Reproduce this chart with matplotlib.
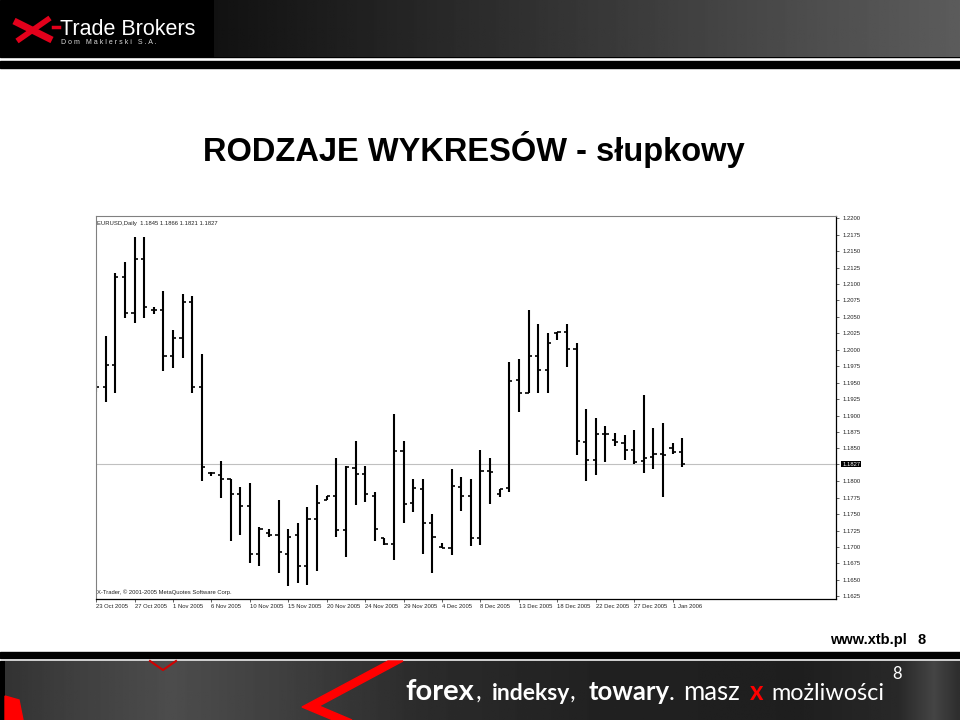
import numpy as np
import matplotlib
matplotlib.use('Agg')
import matplotlib.pyplot as plt
from matplotlib.patches import Rectangle, Polygon

# EURUSD Daily, 23 Oct 2005 - 2 Jan 2006
open_ = [1.1945, 1.1944, 1.1977, 1.2110, 1.2056, 1.2138, 1.2061, 1.2061, 1.1991, 1.2018,
         1.2072, 1.1944, 1.1812, 1.1809, 1.1803, 1.1780, 1.1762, 1.1690, 1.1721, 1.1719,
         1.1690, 1.1718, 1.1671, 1.1743, 1.1771, 1.1777, 1.1726, 1.1820, 1.1811, 1.1777,
         1.1714, 1.1704, 1.1846, 1.1767, 1.1789, 1.1737, 1.1700, 1.1698, 1.1791, 1.1778,
         1.1714, 1.1816, 1.1781, 1.1790, 1.1954, 1.1934, 1.1991, 1.1969, 1.2025, 1.2027,
         1.2001, 1.1860, 1.1832, 1.1872, 1.1863, 1.1858, 1.1847, 1.1831, 1.1837, 1.1842,
         1.1851, 1.1845]
high = [1.1952, 1.2021, 1.2117, 1.2134, 1.2172, 1.2172, 1.2065, 1.2089, 1.2030, 1.2085,
        1.2082, 1.1993, 1.1814, 1.1831, 1.1803, 1.1791, 1.1797, 1.1731, 1.1728, 1.1772,
        1.1728, 1.1736, 1.1761, 1.1794, 1.1778, 1.1836, 1.1823, 1.1861, 1.1823, 1.1783,
        1.1714, 1.1903, 1.1861, 1.1803, 1.1803, 1.1751, 1.1706, 1.1818, 1.1807, 1.1803,
        1.1848, 1.1836, 1.1789, 1.1982, 1.1986, 1.2060, 1.2039, 1.2026, 1.2027, 1.2039,
        1.2011, 1.1910, 1.1897, 1.1884, 1.1874, 1.1871, 1.1878, 1.1931, 1.1881, 1.1888,
        1.1858, 1.1866]
low = [1.1936, 1.1920, 1.1935, 1.2049, 1.2041, 1.2048, 1.2055, 1.1968, 1.1972, 1.1987,
       1.1935, 1.1801, 1.1808, 1.1775, 1.1709, 1.1718, 1.1676, 1.1671, 1.1716, 1.1660,
       1.1640, 1.1645, 1.1643, 1.1664, 1.1771, 1.1716, 1.1685, 1.1764, 1.1769, 1.1709,
       1.1703, 1.1680, 1.1737, 1.1754, 1.1689, 1.1660, 1.1698, 1.1688, 1.1755, 1.1702,
       1.1703, 1.1765, 1.1776, 1.1784, 1.1905, 1.1934, 1.1935, 1.1935, 1.2015, 1.1974,
       1.1840, 1.1800, 1.1809, 1.1830, 1.1853, 1.1832, 1.1826, 1.1813, 1.1818, 1.1776,
       1.1841, 1.1821]
close = [1.1944, 1.1977, 1.2110, 1.2056, 1.2138, 1.2065, 1.2061, 1.1991, 1.2018, 1.2072,
         1.1944, 1.1822, 1.1812, 1.1804, 1.1780, 1.1762, 1.1690, 1.1728, 1.1719, 1.1693,
         1.1716, 1.1671, 1.1743, 1.1767, 1.1778, 1.1726, 1.1822, 1.1811, 1.1780, 1.1727,
         1.1704, 1.1846, 1.1765, 1.1790, 1.1737, 1.1715, 1.1699, 1.1793, 1.1778, 1.1714,
         1.1815, 1.1814, 1.1788, 1.1953, 1.1935, 1.1991, 1.1969, 1.2011, 1.2027, 1.2001,
         1.1861, 1.1832, 1.1872, 1.1872, 1.1859, 1.1847, 1.1830, 1.1836, 1.1841, 1.1840,
         1.1844, 1.1827]

date_labels = ['23 Oct 2005', '27 Oct 2005', '1 Nov 2005', '6 Nov 2005', '10 Nov 2005',
               '15 Nov 2005', '20 Nov 2005', '24 Nov 2005', '29 Nov 2005', '4 Dec 2005',
               '8 Dec 2005', '13 Dec 2005', '18 Dec 2005', '22 Dec 2005', '27 Dec 2005',
               '1 Jan 2006']
price_ticks = [1.2200, 1.2175, 1.2150, 1.2125, 1.2100, 1.2075, 1.2050, 1.2025, 1.2000,
               1.1975, 1.1950, 1.1925, 1.1900, 1.1875, 1.1850, 1.1827, 1.1800, 1.1775,
               1.1750, 1.1725, 1.1700, 1.1675, 1.1650, 1.1625]

small = ['Liberation Sans', 'DejaVu Sans']
foot = ['Lato', 'DejaVu Sans']

fig = plt.figure(figsize=(9.6, 7.2), dpi=100)

# ---------------- slide background (pixel coords) ----------------
bg = fig.add_axes([0, 0, 1, 1])
bg.set_xlim(0, 960)
bg.set_ylim(720, 0)
bg.axis('off')

# header
bg.add_patch(Rectangle((0, 0), 960, 57, color='black', zorder=1))
grad = np.linspace(0.07, 0.36, 300)[None, :]
bg.imshow(grad, extent=(214, 960, 57, 0), cmap='gray', vmin=0, vmax=1,
          aspect='auto', zorder=2)
bg.add_patch(Rectangle((0, 60.5), 960, 7, color='black', zorder=2))

# logo
bg.plot([14, 52], [21, 40], color='#e3001b', lw=5, solid_capstyle='butt', zorder=3)
bg.plot([17, 50], [41, 18], color='#e3001b', lw=4, solid_capstyle='butt', zorder=3)
bg.plot([53, 59], [27, 27], color='#e3001b', lw=2.5, zorder=3)
bg.text(60, 35, 'Trade Brokers', color='white', fontsize=15.5,
        family=small, va='baseline', ha='left', zorder=4)
bg.text(61, 44, 'D o m   M a k l e r s k i   S . A .', color='#dddddd', fontsize=5,
        family=small, va='baseline', ha='left', zorder=4)

# footer
bg.add_patch(Rectangle((0, 651.5), 960, 6, color='black', zorder=1))
bg.add_patch(Rectangle((0, 661), 960, 59, color='black', zorder=1))
xs = np.linspace(5, 960, 480)
keys_x = [5, 60, 170, 300, 420, 600, 800, 900, 935, 960]
keys_v = [0.20, 0.24, 0.30, 0.24, 0.17, 0.13, 0.12, 0.16, 0.27, 0.18]
band = np.interp(xs, keys_x, keys_v)[None, :]
bg.imshow(band, extent=(5, 960, 720, 661), cmap='gray', vmin=0, vmax=1,
          aspect='auto', zorder=2)
bg.add_patch(Polygon([(388, 661), (302, 707), (333, 720), (352, 720), (319, 706), (403, 661)],
                     closed=True, color='#ff0000', zorder=3))
bg.add_patch(Polygon([(5, 696), (19, 700), (23, 720), (5, 720)],
                     closed=True, color='#ff0000', zorder=3))
bg.plot([150, 163, 176], [661, 670, 661], color='#d00000', lw=1.5, zorder=3)

y_base = 700
bg.text(405, y_base, 'forex', color='white', fontsize=21, fontweight='bold', family=foot, zorder=4)
bg.text(476, y_base, ',', color='white', fontsize=18, family=foot, zorder=4)
bg.text(492, y_base, 'indeksy', color='white', fontsize=16.5, fontweight='bold', family=foot, zorder=4)
bg.text(570, y_base, ',', color='white', fontsize=18, family=foot, zorder=4)
bg.text(589, y_base, 'towary', color='white', fontsize=18.5, fontweight='bold', family=foot, zorder=4)
bg.text(669, y_base, '.', color='white', fontsize=18, family=foot, zorder=4)
bg.text(683, y_base, 'masz', color='white', fontsize=18.5, family=foot, zorder=4)
bg.text(750, y_base, 'x', color='#ff0000', fontsize=18.5, fontweight='bold', family=foot, zorder=4)
bg.text(771, y_base, 'możliwości', color='white', fontsize=16.8, family=foot, zorder=4)
bg.text(892, 679, '8', color='white', fontsize=12, family=foot, zorder=4)

# titles
bg.text(474, 161, 'RODZAJE WYKRESÓW - słupkowy', fontsize=23.5, fontweight='bold',
        family=small, ha='center', va='baseline', zorder=4)
bg.text(830, 644, 'www.xtb.pl', fontsize=10.5, fontweight='bold', family=small,
        ha='left', va='baseline', zorder=4)
bg.text(918, 644, '8', fontsize=10.5, fontweight='bold', family=small,
        ha='left', va='baseline', zorder=4)

# ---------------- bar chart ----------------
L, R, T, B = 95.7, 836, 216, 599.3
ax = fig.add_axes([L / 960, (720 - B) / 720, (R - L) / 960, (B - T) / 720])
ax.set_facecolor('white')

n = len(close)
x = np.arange(n)
ax.vlines(x, low, high, color='black', lw=1.5)
ax.hlines(open_, x - 0.33, x, color='black', lw=1.2)
ax.hlines(close, x, x + 0.33, color='black', lw=1.2)

ax.axhline(close[-1], color='#c0c0c0', lw=0.8, zorder=0)

ax.set_xlim(-0.04, 77.0)
ax.set_ylim(1.16205, 1.22035)

ax.yaxis.tick_right()
ax.set_yticks(price_ticks)
ax.set_yticklabels([f'{p:.4f}' for p in price_ticks])
ax.tick_params(axis='y', length=2.5, width=0.5, pad=2, labelsize=4.2,
               labelcolor='#222222', colors='#222222')
for lab in ax.get_yticklabels():
    lab.set_family(small)
    if lab.get_text() == f'{close[-1]:.4f}':
        lab.set_color('white')
        lab.set_bbox(dict(facecolor='black', edgecolor='none', pad=0.6))

ax.set_xticks(np.arange(0, 4 * len(date_labels), 4))
ax.set_xticklabels(date_labels)
ax.tick_params(axis='x', length=2.5, width=0.5, pad=1, labelsize=4.2,
               labelcolor='#222222', colors='#222222')
for lab in ax.get_xticklabels():
    lab.set_family(small)
    lab.set_horizontalalignment('left')

for side in ['left', 'top']:
    ax.spines[side].set_color('#808080')
    ax.spines[side].set_linewidth(0.8)
for side in ['right', 'bottom']:
    ax.spines[side].set_color('black')
    ax.spines[side].set_linewidth(0.9)

ax.text(0.002, 0.988, 'EURUSD,Daily  %.4f %.4f %.4f %.4f' % (open_[-1], high[-1], low[-1], close[-1]),
        transform=ax.transAxes, fontsize=4.2, family=small, color='#222222', va='top', ha='left')
ax.text(0.002, 0.012, 'X-Trader, © 2001-2005 MetaQuotes Software Corp.',
        transform=ax.transAxes, fontsize=4.2, family=small, color='#222222', va='bottom', ha='left')

fig.savefig('out.png', dpi=100)
